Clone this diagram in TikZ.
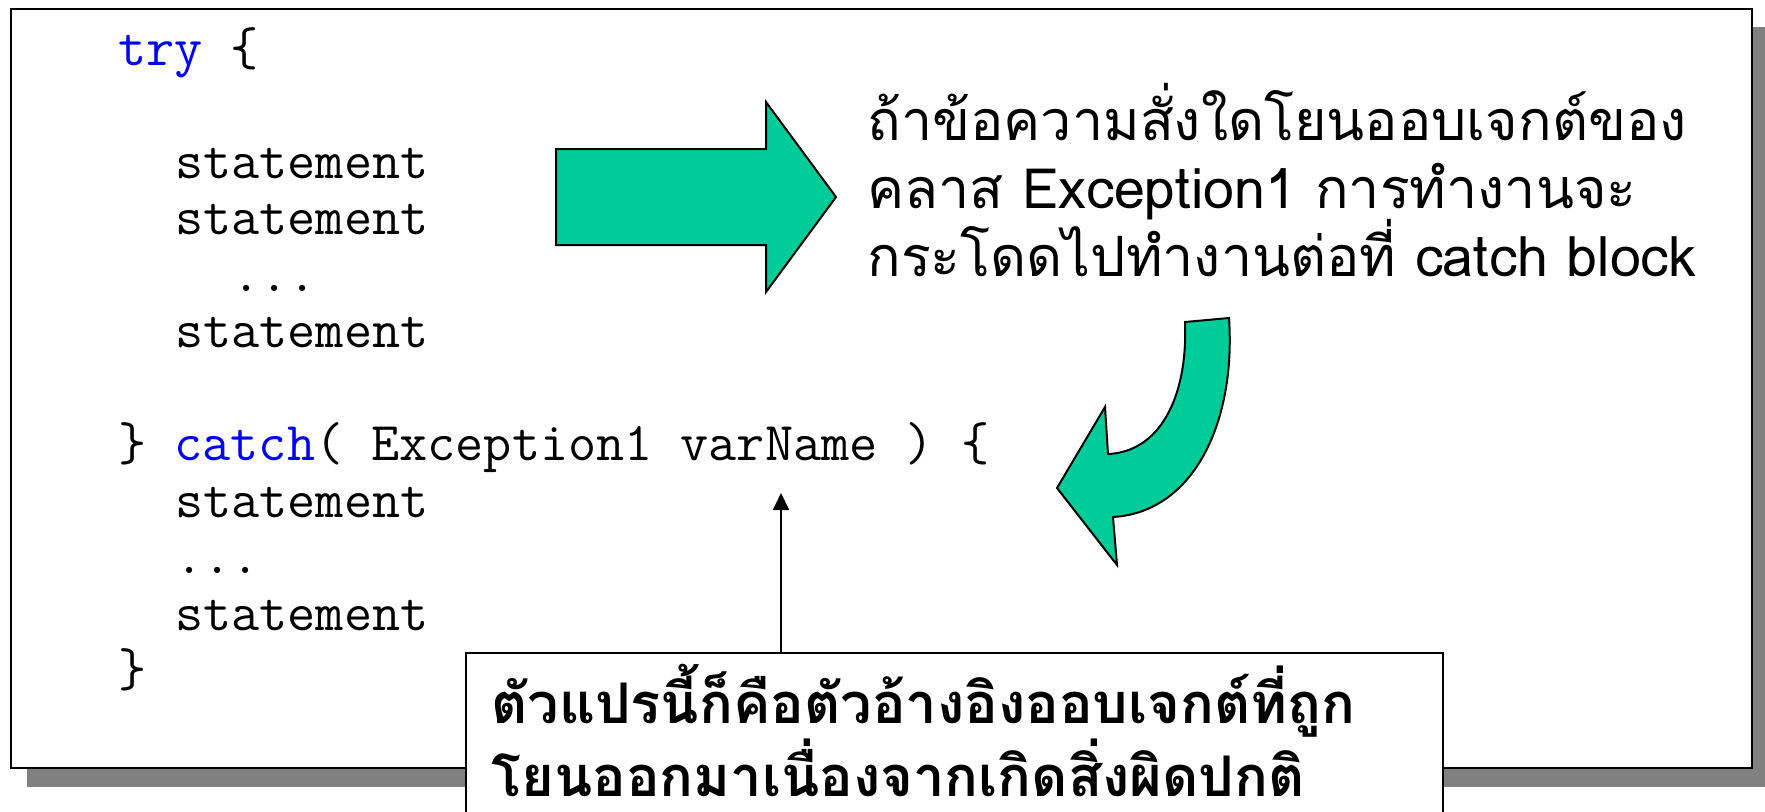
\documentclass[tikz,border=0pt]{standalone}
\usepackage{fontspec}
\newfontfamily\thaifont[Script=Thai]{Loma}
\usetikzlibrary{arrows.meta}
\definecolor{arrowgreen}{RGB}{0,204,153}
\definecolor{kwblue}{RGB}{0,0,255}
\definecolor{shadowgray}{RGB}{128,128,128}
\tikzset{
  codeline/.style={anchor=base west, inner sep=0pt, font=\ttfamily\fontsize{27.3}{28}\selectfont},
  thailine/.style={anchor=base west, inner sep=0pt, font=\thaifont\fontsize{27.8}{30}\selectfont},
  notetext/.style={anchor=base west, inner sep=0pt, text depth=0pt, font=\thaifont\bfseries\fontsize{28}{30}\selectfont},
  blockarrow/.style={fill=arrowgreen, draw=black, line width=1pt, line join=miter},
  frame/.style={fill=white, draw=black, line width=1pt},
}
\begin{document}
\begin{tikzpicture}[x=0.5pt, y=-0.5pt]
\useasboundingbox (0,0) rectangle (1765,811);
% shadow and frame
\fill[shadowgray] (27,27) rectangle (1770,787);
\draw[frame] (11,9) rectangle (1752,768);
% code
\node[codeline] (c0) at (118,65) {\textcolor{kwblue}{try} \{};
\node[codeline] (c2) at (175,178) {statement};
\node[codeline] (c3) at (175,234.5) {statement};
\node[codeline] (c4) at (232,291) {...};
\node[codeline] (c5) at (175,347.5) {statement};
\node[codeline] (c7) at (118,460.5) {\} \textcolor{kwblue}{catch}( Exception1 varName ) \{};
\node[codeline] (c8) at (175,517) {statement};
\node[codeline] (c9) at (175,573.5) {...};
\node[codeline] (c10) at (175,630) {statement};
\node[codeline] (c11) at (118,686.5) {\}};
% straight block arrow
\draw[blockarrow] (556,149) -- (766,149) -- (766,102) -- (836,197) -- (766,292) -- (766,245) -- (556,245) -- cycle;
% upper right text
\node[thailine] (t1) at (867,140) {ถ้าข้อความสั่งใดโยนออบเจกต์ของ};
\node[thailine] (t2) at (867,208) {คลาส Exception1 การทำงานจะ};
\node[thailine] (t3) at (867,276) {กระโดดไปทำงานต่อที่ catch block};
% curved arrow
\draw[blockarrow] (1185,322) -- (1229,318)
  .. controls (1236,420) and (1195,512) .. (1113,517)
  -- (1117,565) -- (1057,488) -- (1105,407) -- (1108,454)
  .. controls (1158,452) and (1188,400) .. (1185,322) -- cycle;
% note box
\draw[frame] (466,653) rectangle (1443,840);
\coordinate (noteTop) at (781,653);
\coordinate (varTip) at (781,493);
\draw[line width=1pt, -{Triangle[length=8.5pt, width=8pt]}] (noteTop) -- (varTip);
\node[notetext] (n1) at (491,723) {ตัวแปรนี้ก็คือตัวอ้างอิงออบเจกต์ที่ถูก};
\node[notetext] (n2) at (491,796) {โยนออกมาเนื่องจากเกิดสิ่งผิดปกติ};
\end{tikzpicture}
\end{document}
